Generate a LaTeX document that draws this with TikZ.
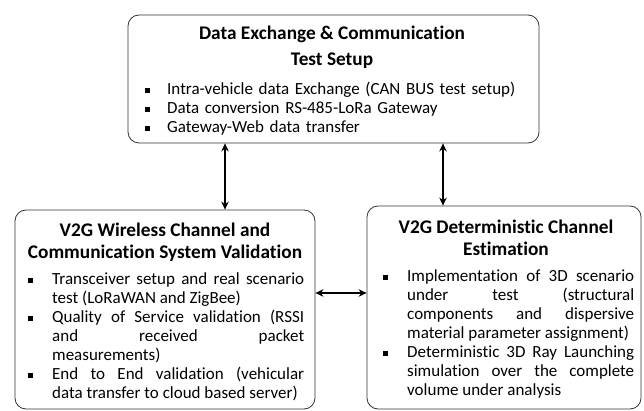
\documentclass[tikz,border=0pt]{standalone}
\usepackage{fontspec}
\setmainfont{Carlito}[Ligatures={NoCommon}]
\usetikzlibrary{arrows.meta}
\newcommand{\sqbul}{\rule[1.5pt]{4.6pt}{4.6pt}}
\newcommand{\bitem}[2][24pt]{\par\noindent\hangindent=#1\hangafter=1\makebox[#1][l]{\sqbul}#2\par}
\newcommand{\bodyfont}{\fontsize{17pt}{19pt}\selectfont\setlength{\parskip}{0pt}\tolerance=10000\hyphenpenalty=10000}
\newcommand{\titlefont}{\bfseries\fontsize{19.3pt}{21pt}\selectfont}
\tikzset{
  box/.style={draw=black!80, line width=0.8pt, rounded corners=11pt, inner sep=0pt},
  ttl/.style={font=\titlefont, anchor=base, inner sep=0pt},
  body/.style={font=\bodyfont, anchor=north west, inner sep=0pt, align=justify},
  bodyl/.style={font=\bodyfont, anchor=north west, inner sep=0pt, align=left},
  arr/.style={line width=1.6pt, {Stealth[length=8pt,width=7.5pt]}-{Stealth[length=8pt,width=7.5pt]}}
}
\begin{document}
\begin{tikzpicture}[x=1pt,y=-1pt]
\useasboundingbox (0,0) rectangle (644,411);
% boxes
\node[box, minimum width=411pt, minimum height=128pt] (top) at (333.5,79) {};
\node[box, minimum width=300pt, minimum height=199pt] (lbox) at (165,309.5) {};
\node[box, minimum width=274pt, minimum height=203pt] (rbox) at (504,307.5) {};
% titles
\node[ttl] (ta1) at (332,39.5) {Data Exchange \& Communication};
\node[ttl] (ta2) at (332,65.5) {Test Setup};
\node[ttl] (tb1) at (165,237) {V2G Wireless Channel and};
\node[ttl] (tb2) at (165,258.5) {Communication System Validation};
\node[ttl] (tc1) at (506,233.5) {V2G Deterministic Channel};
\node[ttl] (tc2) at (506,255) {Estimation};
% bodies
\node[bodyl, text width=380pt] (ba) at (145,75) {%
\bitem[22pt]{\rule{0pt}{14pt}Intra-vehicle data Exchange (CAN BUS test setup)}
\bitem[22pt]{Data conversion RS-485-LoRa Gateway}
\bitem[22pt]{Gateway-Web data transfer}};
\node[body, text width=276pt] (bb) at (28,265) {%
\bitem{\rule{0pt}{14pt}Transceiver setup and real scenario\linebreak test (LoRaWAN and ZigBee)}
\bitem{Quality of Service validation (RSSI\linebreak and received packet\linebreak measurements)}
\bitem{End to End validation (vehicular\linebreak data transfer to cloud based server)}};
\node[body, text width=251pt] (bc) at (383,262) {%
\bitem{\rule{0pt}{14pt}Implementation of 3D scenario\linebreak under test (structural\linebreak components and dispersive\linebreak material parameter assignment)}
\bitem{Deterministic 3D Ray Launching\linebreak simulation over the complete\linebreak volume under analysis}};
% connectors
\coordinate (ax1) at (225,0);
\coordinate (ax2) at (443,0);
\coordinate (ay) at (0,293);
\draw[arr] (ax1 |- top.south) -- (ax1 |- lbox.north);
\draw[arr] (ax2 |- top.south) -- (ax2 |- rbox.north);
\draw[arr] (ay -| lbox.east) -- (ay -| rbox.west);
\end{tikzpicture}
\end{document}
